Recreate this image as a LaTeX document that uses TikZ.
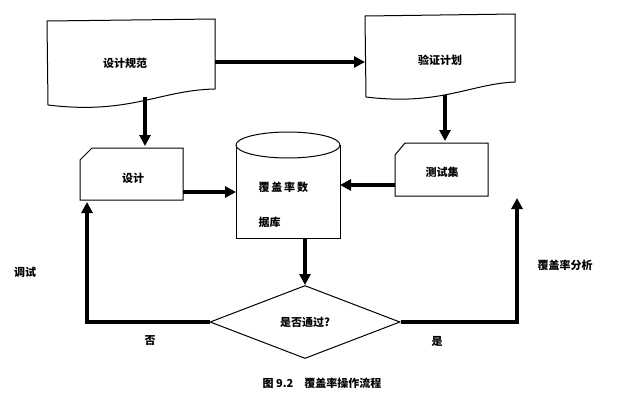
\documentclass[tikz,border=0pt]{standalone}
\usepackage{fontspec}
\newfontfamily\cjk{Noto Sans CJK SC}
\usetikzlibrary{shapes.geometric,arrows.meta}
\begin{document}
\begin{tikzpicture}[x=1pt,y=-1pt,
  box/.style={draw,line width=1pt,fill=white},
  arr/.style={line width=3.5pt,-{Triangle[length=11pt,width=11pt]}},
  lbl/.style={font=\cjk\bfseries\fontsize{11}{13}\selectfont}]
\useasboundingbox (0,0) rectangle (629,413);
% documents
\draw[box] (47,21) -- (215,19) -- (215,89) .. controls (160,90) and (130,115) .. (48,105) -- cycle;
\node[lbl] (spec) at (125,63) {设计规范};
\coordinate (specR) at (215,62);
\coordinate (specB) at (145,97);
\draw[box] (365,16) -- (515,14) -- (515,82) .. controls (470,84) and (440,106) .. (366,97) -- cycle;
\node[lbl] (plan) at (440,60) {验证计划};
\coordinate (planL) at (365,62);
\coordinate (planB) at (445,95);
% cards
\draw[box] (92,148) -- (183,148) -- (183,200) -- (80,200) -- (80,160) -- cycle;
\node[lbl] (des) at (133,178) {设计};
\draw[box] (405,143) -- (488,143) -- (488,196) -- (395,196) -- (395,155) -- cycle;
\node[lbl] (test) at (442,172) {测试集};
% cylinder
\draw[box] (236,145) -- (236,238) -- (340,238) -- (340,145);
\draw[box] (288,145) ellipse (52 and 13);
\node[lbl,anchor=west] (db1) at (255,187) {覆\,盖\,率\,数};
\node[lbl,anchor=west] (db2) at (255,222) {据库};
\coordinate (cylL) at (236,192);
\coordinate (cylR) at (340,185);
\coordinate (cylB) at (305,238);
% diamond
\node[draw,line width=1pt,diamond,aspect=2.6,minimum width=190pt,minimum height=73pt,inner sep=0pt] (dec) at (305,322) {};
\node[lbl] at (305,322) {是否通过?};
% arrows
\draw[arr] (specR) -- (planL);
\draw[arr] (specB) -- (145,146);
\draw[arr] (planB) -- (445,141);
\draw[arr] (183,192) -- (cylL);
\draw[arr] (395,185) -- (cylR);
\draw[arr] (cylB) -- (dec.north);
\draw[arr] (dec.west) -- (87,322) -- (87,202);
\draw[arr] (dec.east) -- (517,322) -- (517,198);
% labels
\node[lbl] at (25,272) {调试};
\node[lbl] at (150,341) {否};
\node[lbl] at (437,341) {是};
\node[lbl] at (565,265) {覆盖率分析};
\node[lbl] at (322,383) {图 9.2\quad 覆盖率操作流程};
\end{tikzpicture}
\end{document}
